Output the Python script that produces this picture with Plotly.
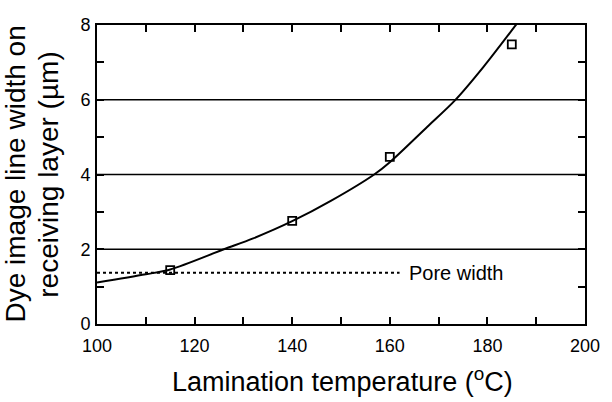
import plotly.graph_objects as go

# Fitted curve
curve_temp = [100, 110, 115, 126, 132, 140, 148, 156.8, 160, 167.7, 173.4, 179.2, 186]
curve_width = [1.11, 1.33, 1.46, 2.0, 2.29, 2.75, 3.30, 4.0, 4.33, 5.28, 5.99, 6.88, 8.03]

# Measured points
point_temp = [115, 140, 160, 185]
point_width = [1.44, 2.76, 4.47, 7.48]

# Pore width reference
pore_temp = [100, 162]
pore_width = [1.37, 1.37]
pore_label = "Pore width"

grid_levels = [2, 4, 6]

x_tick_vals = [100, 110, 120, 130, 140, 150, 160, 170, 180, 190, 200]
x_tick_labels = ["100", "", "120", "", "140", "", "160", "", "180", "", "200"]
y_tick_vals = [0, 1, 2, 3, 4, 5, 6, 7, 8]
y_tick_labels = ["0", "", "2", "", "4", "", "6", "", "8"]

x_title = "Lamination temperature (<sup>o</sup>C)"
y_title_lines = ["Dye image line width on", "receiving layer (µm)"]

FONT = "Liberation Sans, Arial, Helvetica, sans-serif"

fig = go.Figure()

fig.add_trace(go.Scatter(
    x=pore_temp, y=pore_width, mode="lines",
    line=dict(color="black", width=2, dash="dot"),
    hoverinfo="skip", showlegend=False))

fig.add_trace(go.Scatter(
    x=curve_temp, y=curve_width, mode="lines",
    line=dict(color="black", width=2, shape="spline", smoothing=0.9),
    showlegend=False))

fig.add_trace(go.Scatter(
    x=point_temp, y=point_width, mode="markers",
    marker=dict(symbol="square-open", size=8, color="black",
                line=dict(color="black", width=1.8)),
    showlegend=False))

for g in grid_levels:
    fig.add_shape(type="line", xref="paper", x0=0, x1=1, yref="y", y0=g, y1=g,
                  line=dict(color="black", width=1.5), layer="below")

fig.add_annotation(x=pore_temp[1] + 1.5, y=pore_width[1], xref="x", yref="y",
                   text=pore_label, showarrow=False, xanchor="left", yanchor="middle",
                   font=dict(family=FONT, size=20, color="black"))

fig.add_annotation(x=0.504, y=-0.124, xref="paper", yref="paper",
                   text=x_title, showarrow=False, xanchor="center", yanchor="top",
                   font=dict(family=FONT, size=27, color="black"))

# two lines of the y title, placed one beside the other
y_line_x = [-0.168, -0.100]
for line_text, xp in zip(y_title_lines, y_line_x):
    fig.add_annotation(x=xp, y=0.5, xref="paper", yref="paper",
                       text=line_text, showarrow=False, xanchor="center",
                       yanchor="middle", textangle=-90,
                       font=dict(family=FONT, size=28, color="black"))

fig.update_layout(
    width=612, height=402,
    margin=dict(l=97, r=23, t=25, b=78),
    paper_bgcolor="white", plot_bgcolor="white",
    font=dict(family=FONT, size=18, color="black"),
    showlegend=False,
)

fig.update_xaxes(
    range=[100, 200], tickmode="array", tickvals=x_tick_vals, ticktext=x_tick_labels,
    ticks="inside", ticklen=7, tickwidth=1.5, tickcolor="black",
    showline=True, linecolor="black", linewidth=2, mirror="ticks",
    showgrid=False, zeroline=False, ticklabelstandoff=4,
    tickfont=dict(family=FONT, size=18, color="black"),
)
fig.update_yaxes(
    range=[0, 8], tickmode="array", tickvals=y_tick_vals, ticktext=y_tick_labels,
    ticks="inside", ticklen=7, tickwidth=1.5, tickcolor="black",
    showline=True, linecolor="black", linewidth=2, mirror="ticks",
    showgrid=False, zeroline=False, ticklabelstandoff=1,
    tickfont=dict(family=FONT, size=18, color="black"),
)

fig.write_html("out.html", config={"displayModeBar": False},
               post_script="document.body.style.margin='0';")
